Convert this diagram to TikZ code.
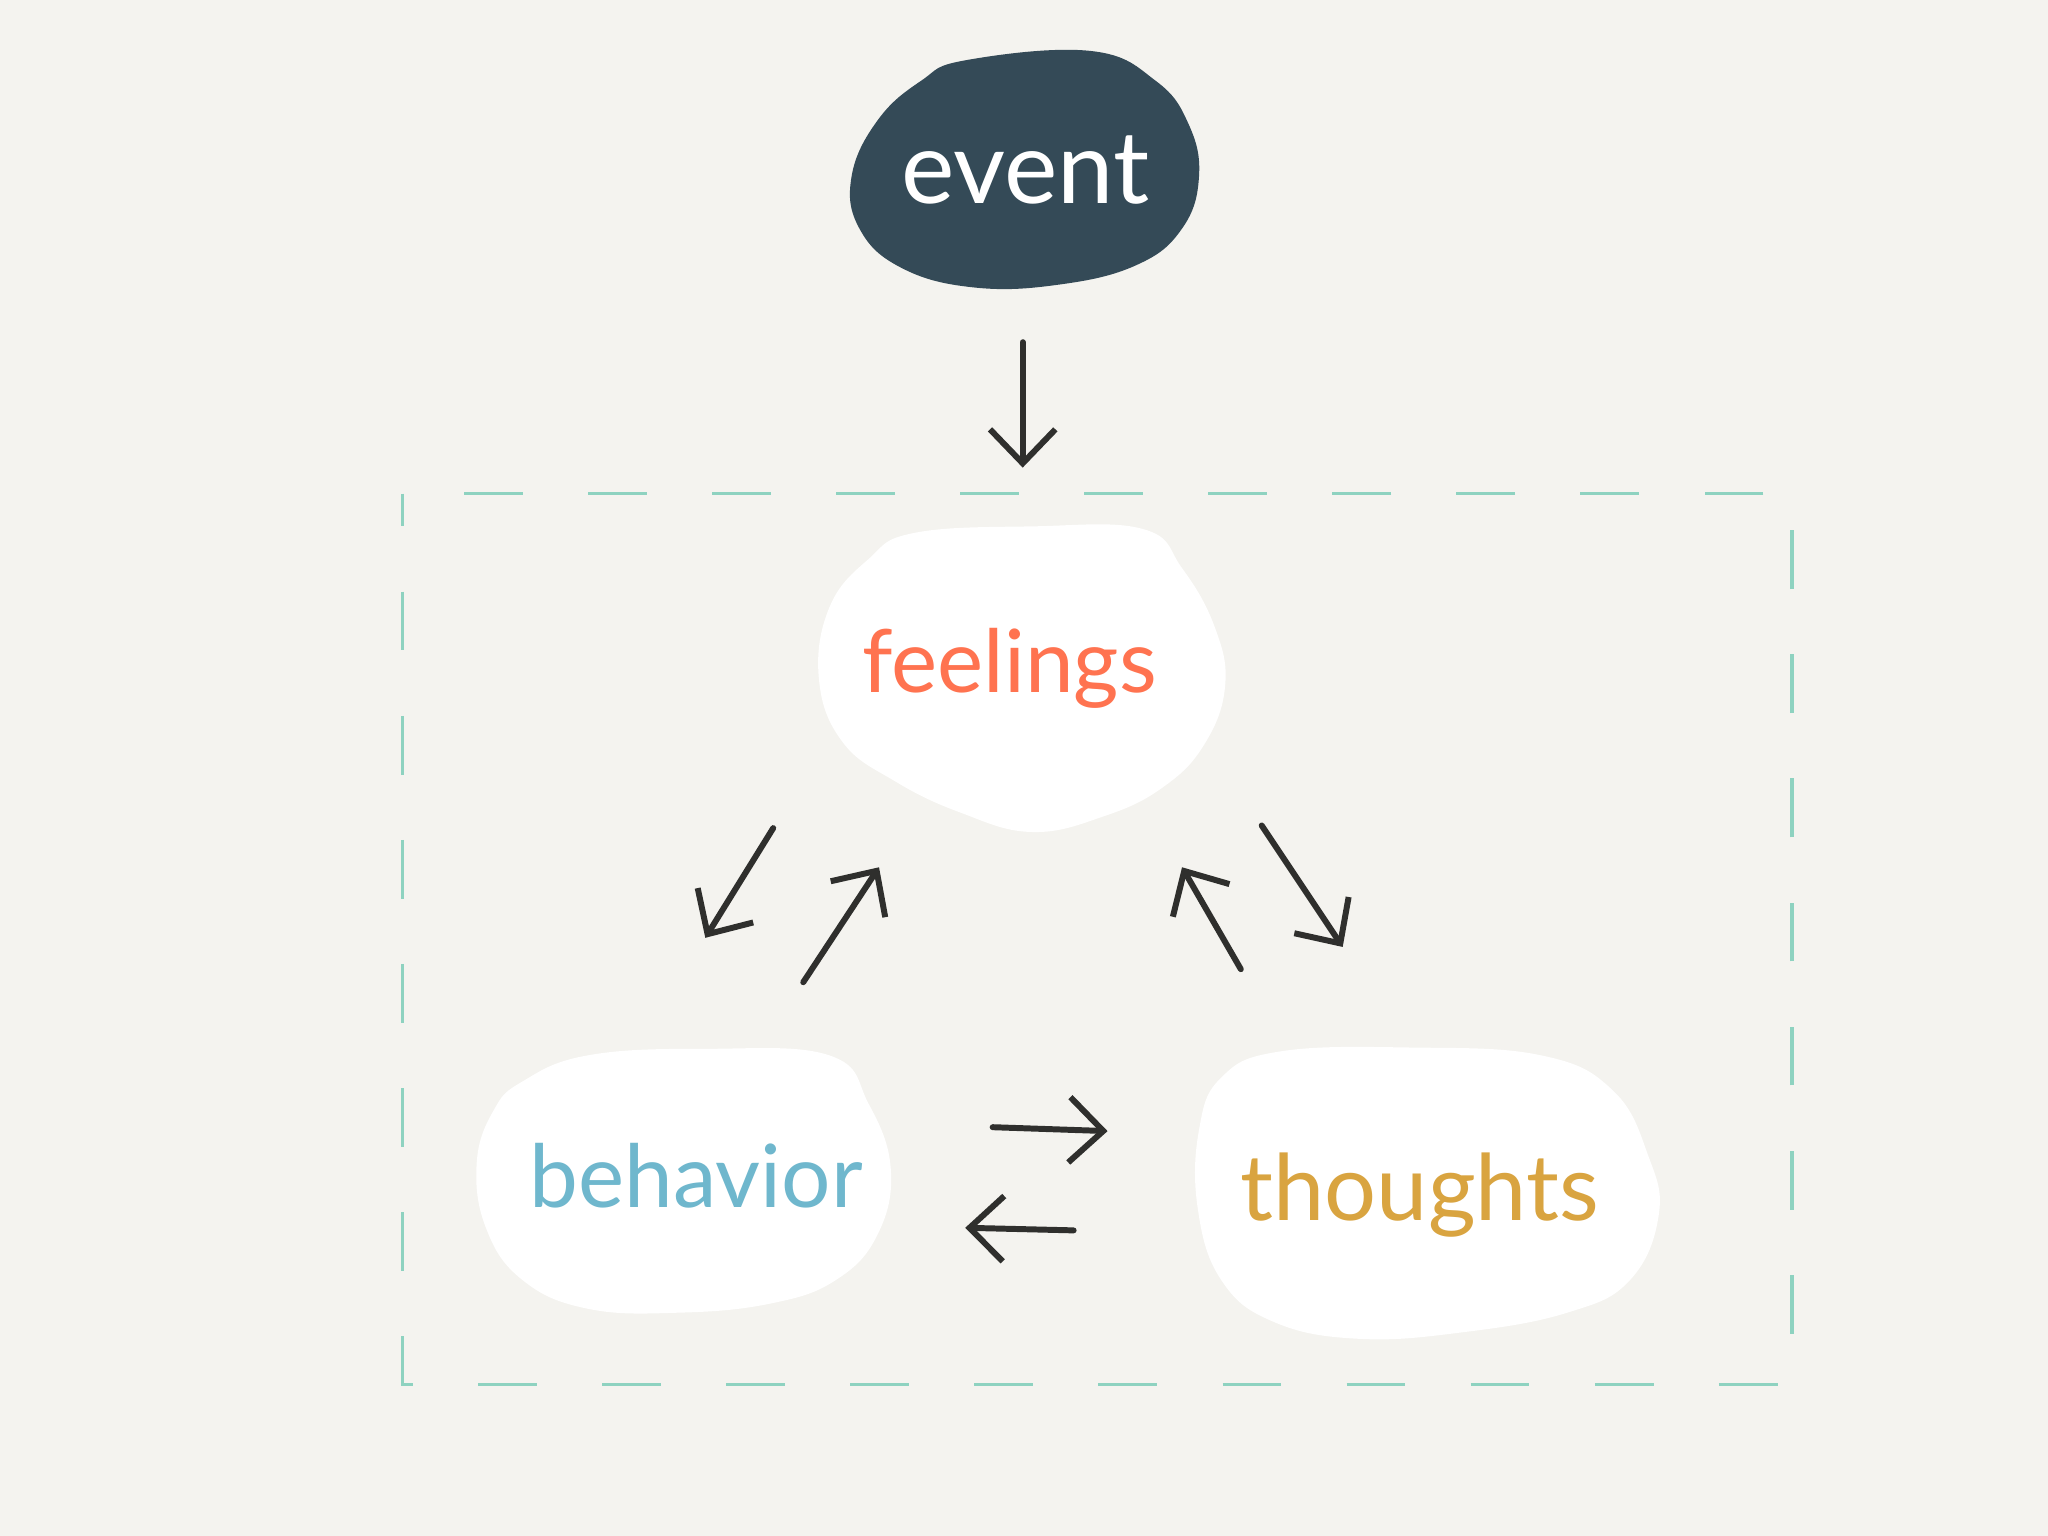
\documentclass[tikz,border=0pt]{standalone}
\usepackage{fontspec}
\setmainfont{Lato}
\usetikzlibrary{arrows.meta}

\definecolor{paper}{HTML}{F4F3EF}
\definecolor{slate}{HTML}{344A57}
\definecolor{coral}{HTML}{FF7350}
\definecolor{sky}{HTML}{6FB7CD}
\definecolor{mustard}{HTML}{D9A440}
\definecolor{mint}{HTML}{8ED2C0}
\definecolor{ink}{HTML}{2F2F2D}

\tikzset{
  word/.style={inner sep=0pt,font=\fontsize{19}{23}\selectfont},
  blob/.style={fill=white,draw=none},
  arr/.style={draw=ink,line width=1.3pt,line cap=round,line join=round,
    -{Straight Barb[length=2.6mm,width=5mm,line width=1.3pt]}},
  frame/.style={draw=mint,line width=0.7pt,dash pattern=on 4.5mm off 5mm,dash phase=2mm}
}

\begin{document}
\begin{tikzpicture}[x=0.1mm,y=-0.1mm]
  \fill[paper] (0,0) rectangle (1568,1176);
  \useasboundingbox (0,0) rectangle (1568,1176);

  % dashed frame
  \draw[frame] (308,378) rectangle (1372,1060);

  % blobs
  \fill[slate] plot[smooth cycle,tension=0.7] coordinates {(740,46) (835,39) (885,62) (910,95) (918,135) (905,175) (870,203) (810,218) (745,220) (690,205) (658,175) (652,135) (672,92) (705,62)};
  \fill[blob] plot[smooth cycle,tension=0.7] coordinates {(700,408) (790,403) (875,405) (905,435) (930,480) (938,525) (922,570) (890,603) (845,625) (790,637) (735,622) (685,598) (645,568) (627,520) (635,465) (665,428)};
  \fill[blob] plot[smooth cycle,tension=0.7] coordinates {(400,828) (450,808) (540,803) (635,808) (665,845) (682,895) (672,945) (640,980) (590,998) (520,1005) (450,1002) (400,980) (372,940) (365,890) (378,850)};
  \fill[blob] plot[smooth cycle,tension=0.7] coordinates {(935,825) (980,805) (1080,802) (1180,808) (1235,835) (1262,885) (1270,930) (1248,980) (1200,1005) (1120,1020) (1040,1025) (975,1012) (935,980) (917,925) (918,865)};

  % words
  \node[word,text=white,font=\fontsize{22}{26}\selectfont] (event) at (785,130) {event};
  \node[word,text=coral] (feelings) at (773,512) {feelings};
  \node[word,text=sky] (behavior) at (533,900) {behavior};
  \node[word,text=mustard,font=\fontsize{20}{24}\selectfont] (thoughts) at (1087,915) {thoughts};

  % arrow ends
  \coordinate (e1) at (783,262);
  \coordinate (e2) at (783,358);
  \coordinate (fb1) at (592,634);
  \coordinate (fb2) at (540,718);
  \coordinate (bf1) at (615,752);
  \coordinate (bf2) at (673,664);
  \coordinate (tf1) at (950,742);
  \coordinate (tf2) at (905,664);
  \coordinate (ft1) at (966,632);
  \coordinate (ft2) at (1028,725);
  \coordinate (bt1) at (760,863);
  \coordinate (bt2) at (848,866);
  \coordinate (tb1) at (822,942);
  \coordinate (tb2) at (739,940);

  \draw[arr] (e1) -- (e2);
  \draw[arr] (fb1) -- (fb2);
  \draw[arr] (bf1) -- (bf2);
  \draw[arr] (tf1) -- (tf2);
  \draw[arr] (ft1) -- (ft2);
  \draw[arr] (bt1) -- (bt2);
  \draw[arr] (tb1) -- (tb2);
\end{tikzpicture}
\end{document}
